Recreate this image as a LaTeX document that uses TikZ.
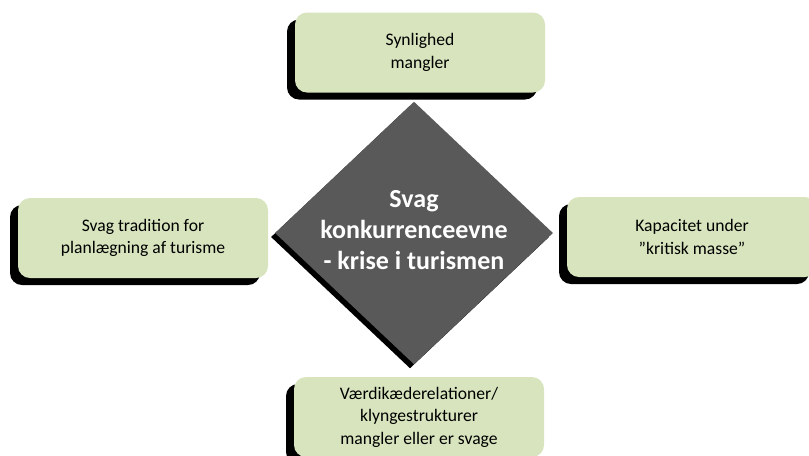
\documentclass[tikz,border=0pt]{standalone}
\usepackage{fontspec}
\setmainfont{Carlito}
\usetikzlibrary{shapes.geometric,shadows}
\definecolor{boxgreen}{HTML}{D7E4BD}
\definecolor{kernegray}{HTML}{595959}

\begin{document}
\begin{tikzpicture}[x=0.75pt,y=-0.75pt,
  problem/.style={rectangle,rounded corners=9pt,fill=boxgreen,
    minimum width=187.5pt,minimum height=60pt,align=center,
    font=\fontsize{13.2}{16.8}\selectfont,
    drop shadow={shadow xshift=-6pt,shadow yshift=-5.25pt,fill=black,opacity=1}},
  kerne/.style={diamond,fill=kernegray,inner sep=0pt,
    minimum width=208.5pt,minimum height=197pt,
    drop shadow={shadow xshift=-3pt,shadow yshift=-3pt,fill=black,opacity=1}}]
\useasboundingbox (0,0) rectangle (809,455);
\node [kerne] (krise) at (414,233) {};
\node [align=center,text=white,font=\bfseries\fontsize{19.5}{23.5}\selectfont] (kriselabel) at (414,230)
  {Svag\\konkurrenceevne\\- krise i turismen};
\node [problem] (synlighed) at (420,52.5) {Synlighed\\mangler};
\node [problem] (tradition) at (143,238) {Svag tradition for\\planlægning af turisme};
\node [problem] (kapacitet) at (692,237) {Kapacitet under\\”kritisk masse”};
\node [problem] (klynge) at (419,417) {Værdikæderelationer/\\klyngestrukturer\\mangler eller er svage};
\end{tikzpicture}
\end{document}
